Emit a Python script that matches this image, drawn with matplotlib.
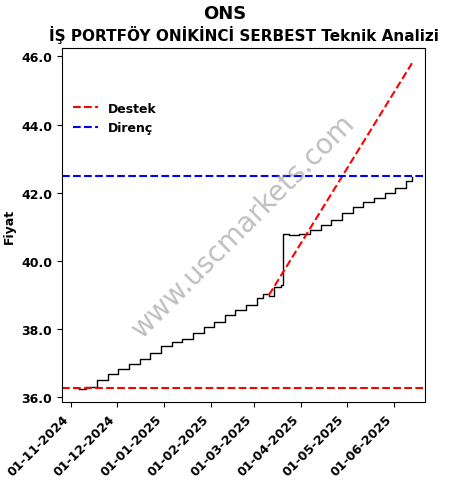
import matplotlib
matplotlib.use("Agg")
import matplotlib.pyplot as plt
import matplotlib.dates as mdates
import pandas as pd

dates = ["2024-11-06","2024-11-11","2024-11-18","2024-11-25","2024-12-02","2024-12-09","2024-12-16","2024-12-23",
         "2024-12-30","2025-01-06","2025-01-13","2025-01-20","2025-01-27","2025-02-03","2025-02-10","2025-02-17",
         "2025-02-24","2025-03-03","2025-03-07","2025-03-11","2025-03-14","2025-03-19","2025-03-20","2025-03-24",
         "2025-03-31","2025-04-07","2025-04-14","2025-04-21","2025-04-28","2025-05-05","2025-05-12","2025-05-19",
         "2025-05-26","2025-06-02","2025-06-09","2025-06-13"]
prices = [36.25,36.30,36.50,36.68,36.82,36.97,37.12,37.30,
          37.50,37.62,37.72,37.88,38.05,38.22,38.40,38.55,
          38.72,38.92,39.04,38.98,39.25,39.30,40.80,40.75,
          40.78,40.90,41.05,41.20,41.42,41.58,41.72,41.85,
          42.00,42.15,42.35,42.45]
destek_dates = ["2025-03-11","2025-06-13"]
destek_vals = [39.0,45.8]
support_level = 36.28
resistance_level = 42.5

d = pd.to_datetime(dates)
fig, ax = plt.subplots(figsize=(4.5,4.89), dpi=100)
ax.plot(d, prices, color="black", lw=1, drawstyle="steps-post")
ax.plot(pd.to_datetime(destek_dates), destek_vals, "r--", lw=1.5, label="Destek")
ax.axhline(support_level, color="red", ls="--", lw=1.5)
ax.axhline(resistance_level, color="blue", ls="--", lw=1.5, label="Direnç")
ax.set_ylim(35.85, 46.25)
ax.set_xlim(pd.Timestamp("2024-10-26"), pd.Timestamp("2025-06-21 18:00"))
ticks = pd.to_datetime(["2024-11-01","2024-12-01","2025-01-01","2025-02-01","2025-03-01","2025-04-01","2025-05-01","2025-06-01"])
ax.set_xticks(ticks)
ax.xaxis.set_major_formatter(mdates.DateFormatter("%d-%m-%Y"))
ax.yaxis.set_major_formatter(matplotlib.ticker.FormatStrFormatter("%.1f"))
ax.tick_params(labelsize=9)
for lab in ax.get_xticklabels():
    lab.set_rotation(45); lab.set_ha("right"); lab.set_fontweight("bold")
for lab in ax.get_yticklabels():
    lab.set_fontweight("bold")
ax.set_ylabel("Fiyat", fontweight="bold", fontsize=9)
fig.suptitle("ONS", fontweight="bold", fontsize=13, y=0.99)
ax.set_title("İŞ PORTFÖY ONİKİNCİ SERBEST Teknik Analizi", fontweight="bold", fontsize=11)
leg = ax.legend(loc="upper left", bbox_to_anchor=(0.0, 0.88), prop={"weight":"bold", "size":9}, frameon=True)
leg.get_frame().set_edgecolor("white")
ax.text(0.5, 0.5, "www.uscmarkets.com", transform=ax.transAxes, fontsize=20, color="gray",
        alpha=0.5, rotation=45, ha="center", va="center")
plt.subplots_adjust(left=0.138, right=0.945, top=0.9, bottom=0.175)
fig.savefig("out.png")
